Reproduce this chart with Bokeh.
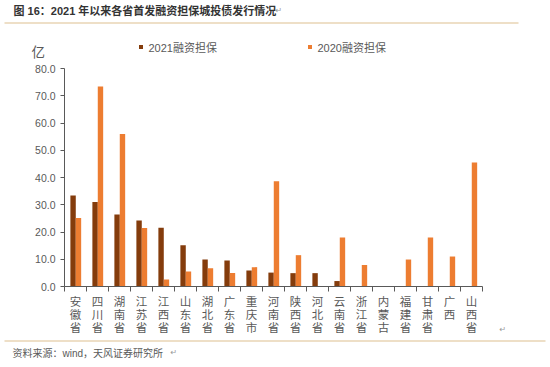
import numpy as np
from bokeh.plotting import figure
from bokeh.models import (Range1d, FixedTicker, PrintfTickFormatter, Label, Legend, LegendItem,
                          BoxAnnotation, LinearAxis)
from bokeh.embed import file_html
from bokeh.resources import INLINE

provinces = ["安徽省", "四川省", "湖南省", "江苏省", "江西省", "山东省", "湖北省", "广东省", "重庆市",
             "河南省", "陕西省", "河北省", "云南省", "浙江省", "内蒙古", "福建省", "甘肃省", "广西", "山西省"]
v2021 = [33.4, 31.0, 26.4, 24.2, 21.6, 15.1, 9.9, 9.5, 5.9, 5.1, 4.9, 4.9, 2.0, 0, 0, 0, 0, 0, 0]
v2020 = [25.1, 73.4, 56.0, 21.5, 2.6, 5.5, 6.7, 5.0, 7.1, 38.6, 11.5, 0, 18.0, 7.9, 0, 9.9, 18.0, 11.0, 45.5]
y_ticks = [0, 10, 20, 30, 40, 50, 60, 70, 80]
series_names = ["2021融资担保", "2020融资担保"]
title_text = "图 16：2021 年以来各省首发融资担保城投债发行情况"
source_text = "资料来源：wind，天风证券研究所"
unit_text = "亿"

C21 = "#843C0C"
C20 = "#ED7D31"
GREY = "#595959"
FONT = "Liberation Sans, Noto Sans CJK SC"
CJK = "Noto Sans CJK SC"

W, H = 550, 367
# plot area in canvas pixels (left, right, top, bottom)
PL, PR, PT, PB = 64, 482, 68, 286
n = len(provinces)
YMAX = 80
xs = (PR - PL) / n
ys = (PB - PT) / YMAX
x_range = Range1d(-PL / xs, n + (W - PR) / xs)
y_range = Range1d(-(H - PB) / ys, YMAX + PT / ys)

p = figure(width=W, height=H, output_backend="svg", toolbar_location=None,
           x_range=x_range, y_range=y_range,
           min_border=0, x_axis_type=None, y_axis_type=None)
p.outline_line_color = None
p.grid.visible = False
p.background_fill_color = "white"
p.border_fill_color = "white"

idx = np.arange(n)
r21 = p.vbar(x=idx + 0.39, top=v2021, width=0.245, fill_color=C21, line_color=None)
r20 = p.vbar(x=idx + 0.635, top=v2020, width=0.245, fill_color=C20, line_color=None)

# y axis
ya = LinearAxis(ticker=FixedTicker(ticks=y_ticks, minor_ticks=[]),
                formatter=PrintfTickFormatter(format="%.1f"),
                fixed_location=0, bounds=(0, YMAX))
ya.axis_line_color = GREY
ya.major_tick_line_color = GREY
ya.major_tick_out = 4
ya.major_tick_in = 0
ya.major_label_standoff = 5
ya.major_label_text_font = FONT
ya.major_label_text_font_size = "10.5px"
ya.major_label_text_color = GREY
p.add_layout(ya, "left")

# x axis: labels at category centers, ticks at boundaries (minor)
xa = LinearAxis(ticker=FixedTicker(ticks=list(idx + 0.5), minor_ticks=list(range(n + 1))),
                fixed_location=0, bounds=(0, n))
xa.major_label_overrides = {float(i + 0.5): "\n".join(list(name)) for i, name in enumerate(provinces)}
xa.axis_line_color = GREY
xa.major_tick_line_color = None
xa.major_tick_out = 0
xa.major_tick_in = 0
xa.minor_tick_line_color = GREY
xa.minor_tick_out = 5
xa.minor_tick_in = 0
xa.major_label_standoff = 4
xa.major_label_text_font = FONT
xa.major_label_text_font_size = "11.5px"
xa.major_label_text_line_height = 1.1
xa.major_label_text_color = GREY
xa.major_label_orientation = "horizontal"
p.add_layout(xa, "below")

def sx(fx):
    return fx

def sy(fy):
    return H - fy

# legends
for r, name, gx in [(r21, series_names[0], 137.5), (r20, series_names[1], 306.5)]:
    lg = Legend(items=[LegendItem(label=name, renderers=[r])], location=(sx(gx), sy(54.5)),
                orientation="horizontal", padding=0, margin=0, spacing=0,
                glyph_width=5, glyph_height=5, label_standoff=6, label_height=12,
                label_text_font=FONT, label_text_font_size="11px", label_text_color=GREY,
                border_line_color=None, background_fill_alpha=0)
    p.add_layout(lg, "center")

# texts
p.add_layout(Label(x=sx(31), y=sy(50), x_units="screen", y_units="screen", text=unit_text,
                   text_font=CJK, text_font_size="13.5px", text_color=GREY,
                   text_baseline="middle", text_align="left"))
p.add_layout(Label(x=sx(13), y=sy(10.5), x_units="screen", y_units="screen", text=title_text,
                   text_font=FONT, text_font_size="11px", text_font_style="bold", text_color="#333333",
                   text_baseline="middle", text_align="left"))
p.add_layout(Label(x=sx(12), y=sy(352.5), x_units="screen", y_units="screen", text=source_text,
                   text_font=FONT, text_font_size="10px", text_color=GREY,
                   text_baseline="middle", text_align="left"))
for (fx, fy) in [(275, 9.5), (170, 352), (499, 329)]:
    p.add_layout(Label(x=sx(fx), y=sy(fy), x_units="screen", y_units="screen", text="↵",
                       text_font="DejaVu Sans", text_font_size="8px", text_color="#999999",
                       text_baseline="middle", text_align="left"))

# separator lines
for fy, right in [(22.5, 518), (340.5, 545)]:
    p.add_layout(BoxAnnotation(left=sx(4), right=sx(right), top=sy(fy - 0.75), bottom=sy(fy + 0.75),
                               left_units="screen", right_units="screen",
                               top_units="screen", bottom_units="screen",
                               fill_color="#E8D5B5", fill_alpha=1, line_color=None))

open("out.html", "w").write(file_html(p, INLINE))
